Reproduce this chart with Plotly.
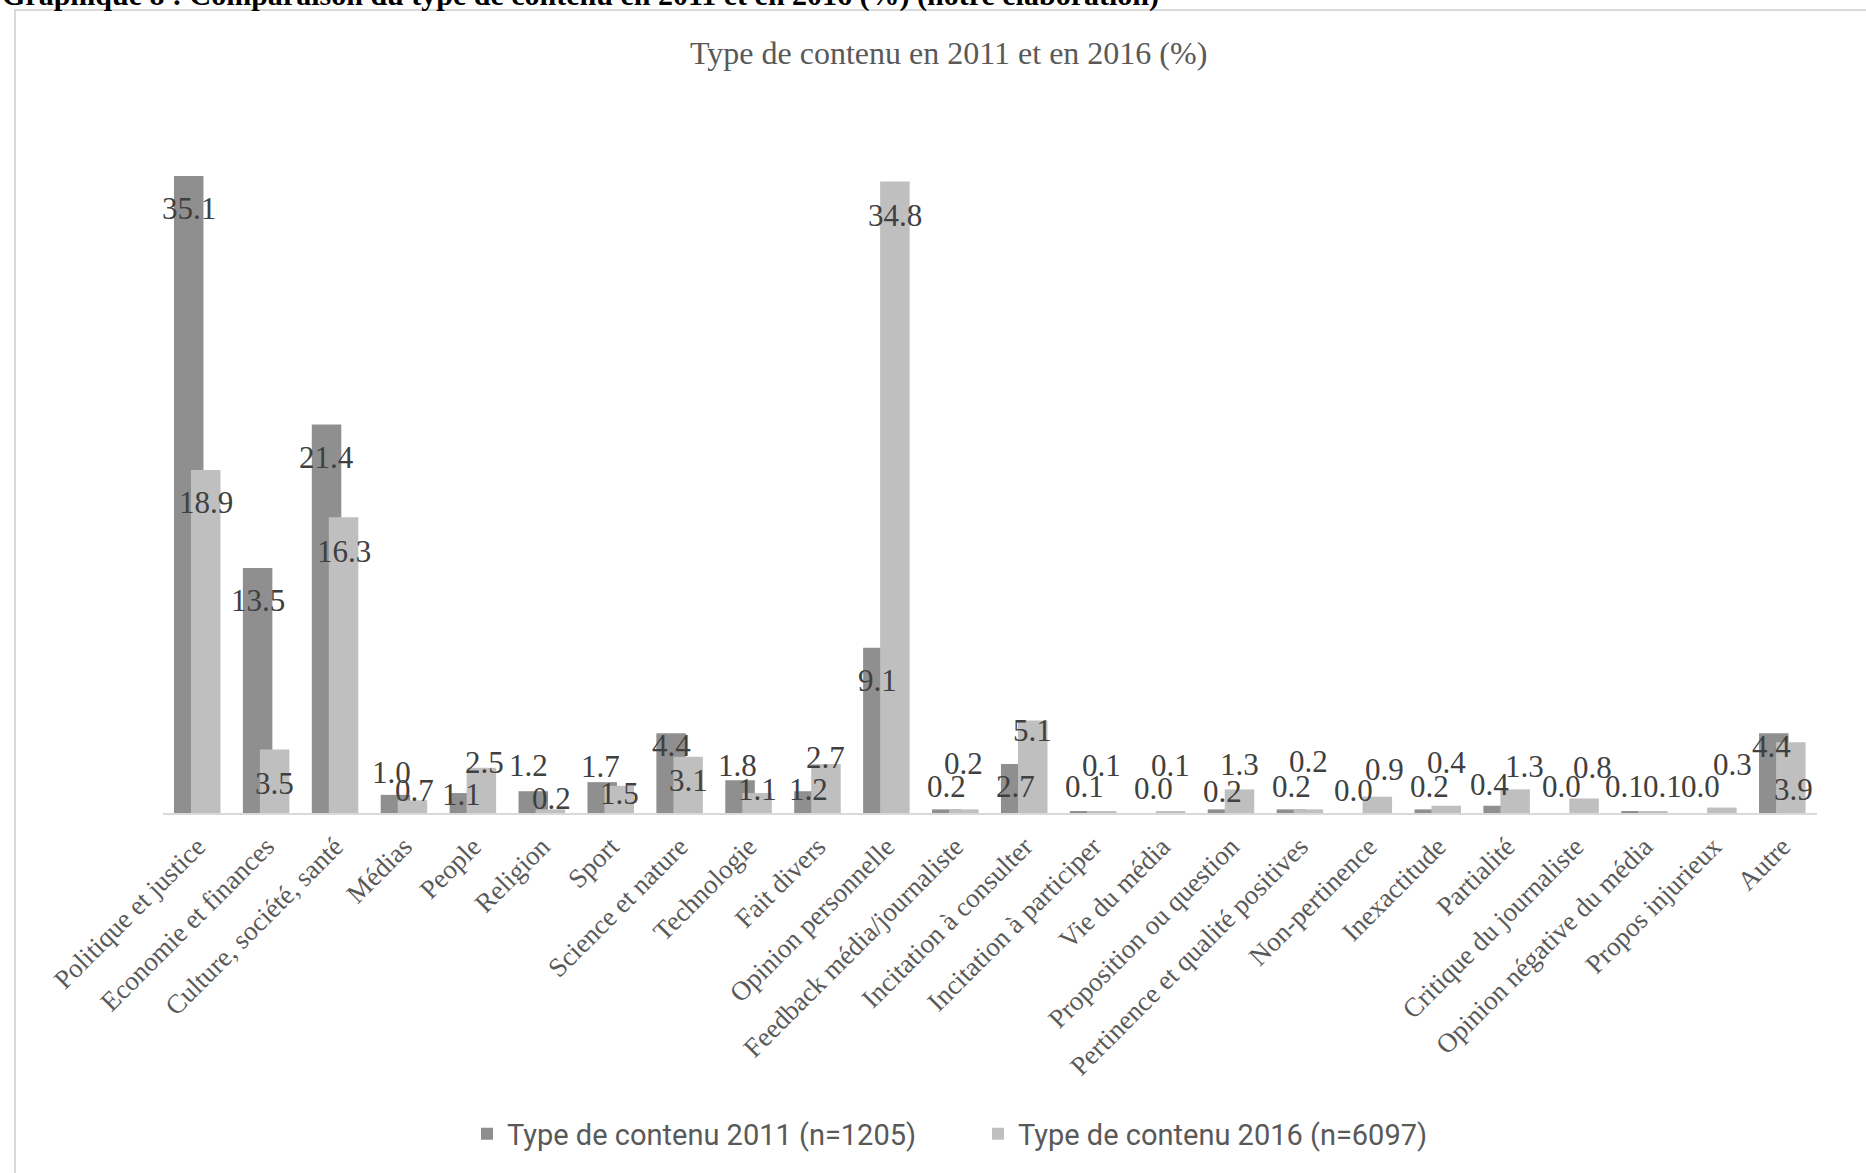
import plotly.graph_objects as go

# ---------------- data ----------------
categories = [
    "Politique et justice", "Economie et finances", "Culture, société, santé",
    "Médias", "People", "Religion", "Sport", "Science et nature", "Technologie",
    "Fait divers", "Opinion personnelle", "Feedback média/journaliste",
    "Incitation à consulter", "Incitation à participer", "Vie du média",
    "Proposition ou question", "Pertinence et qualité positives",
    "Non-pertinence", "Inexactitude", "Partialité", "Critique du journaliste",
    "Opinion négative du média", "Propos injurieux", "Autre",
]
val_2011 = [35.1, 13.5, 21.4, 1.0, 1.1, 1.2, 1.7, 4.4, 1.8, 1.2, 9.1, 0.2,
            2.7, 0.1, 0.0, 0.2, 0.2, 0.0, 0.2, 0.4, 0.0, 0.1, 0.0, 4.4]
val_2016 = [18.9, 3.5, 16.3, 0.7, 2.5, 0.2, 1.5, 3.1, 1.1, 2.7, 34.8, 0.2,
            5.1, 0.1, 0.1, 1.3, 0.2, 0.9, 0.4, 1.3, 0.8, 0.1, 0.3, 3.9]
series_names = ["Type de contenu 2011 (n=1205)", "Type de contenu 2016 (n=6097)"]
chart_title = "Type de contenu en 2011 et en 2016 (%)"
caption = "Graphique 8 : Comparaison du type de contenu en 2011 et en 2016 (%) (notre élaboration)"

# ---------------- label nudges (pixels, styling only) ----------------
lbl_dy_2011 = [-33, -33, -33, 22, -1, 26, 16, -12, 15, 2, -33, 23,
               -22, 25, 25, 18, 23, 23, 23, 21, 27, 25, 27, -13]
lbl_dy_2016 = [-33, -34, -34, 10, 5, 11, -8, -24, 4, 7, -34, 46,
               -10, 46, 46, 25, 48, 27, 43, 23, 31, 25, 43, -47]
lbl_dx_2011 = [0, 0, 0, -4, -3, -5, -2, 0, -3, 0, 0, 0,
               0, 0, 0, 0, 0, -7, 0, -9, -6, -11, -4, -2]
lbl_dx_2016 = [0, 0, 0, 2, 3, 1, 0, 0, 0, 0, 0, 0,
               0, 0, 0, 0, 0, 7, 0, 9, 8, 10, 11, 3]

# ---------------- layout constants ----------------
W, H = 1866, 1173
ML, MR, MT, MB = 163, 49, 87, 360
PW, PH = W - ML - MR, H - MT - MB
cat_px = PW / len(categories)

col_2011 = "#8f8f8f"
col_2016 = "#bfbfbf"
bar_w = 0.428
off_2011 = -0.341
off_2016 = -0.094

serif = "Liberation Serif, Times New Roman, serif"


def px_x(p):
    return (p - ML) / PW


def px_y(p):
    return (MT + PH - p) / PH


fig = go.Figure()
fig.add_trace(go.Bar(x=categories, y=val_2011, name=series_names[0],
                     width=bar_w, offset=off_2011,
                     marker=dict(color=col_2011, line=dict(width=0)),
                     hoverinfo="skip"))
fig.add_trace(go.Bar(x=categories, y=val_2016, name=series_names[1],
                     width=bar_w, offset=off_2016,
                     marker=dict(color=col_2016, line=dict(width=0)),
                     hoverinfo="skip"))

annotations = []
for vals, off, dxs, dys in ((val_2011, off_2011, lbl_dx_2011, lbl_dy_2011),
                            (val_2016, off_2016, lbl_dx_2016, lbl_dy_2016)):
    center_px = (off + bar_w / 2) * cat_px
    for c, v, dx, dy in zip(categories, vals, dxs, dys):
        annotations.append(dict(
            x=c, y=v, xref="x", yref="y", text=f"{v:.1f}", showarrow=False,
            xanchor="center", yanchor="middle",
            xshift=center_px + dx, yshift=dy,
            font=dict(family=serif, size=31, color="#404040")))

annotations.append(dict(
    x=px_x(948), y=px_y(53), xref="paper", yref="paper", text=chart_title,
    showarrow=False, xanchor="center", yanchor="middle",
    font=dict(family=serif, size=32, color="#595959")))
annotations.append(dict(
    x=px_x(0), y=px_y(-5), xref="paper", yref="paper",
    text="<b>" + caption + "</b>",
    showarrow=False, xanchor="left", yanchor="middle",
    font=dict(family=serif, size=30, color="#000000")))

shapes = [dict(type="rect", xref="paper", yref="paper",
               x0=px_x(15), x1=1.2, y0=px_y(10), y1=-0.8,
               line=dict(color="#d9d9d9", width=2), fillcolor="rgba(0,0,0,0)",
               layer="below")]

fig.update_layout(
    width=W, height=H,
    margin=dict(l=ML, r=MR, t=MT, b=MB, pad=0),
    paper_bgcolor="white", plot_bgcolor="white",
    barmode="overlay",
    showlegend=True,
    legend=dict(orientation="h", x=px_x(467), xanchor="left",
                y=px_y(1134), yanchor="middle",
                font=dict(family="Roboto, sans-serif", size=29, color="#595959"),
                entrywidth=466, itemsizing="constant", traceorder="normal"),
    xaxis=dict(type="category", showline=True, linecolor="#d9d9d9", linewidth=2,
               ticks="", showgrid=False, zeroline=False, tickangle=-45,
               ticklabelstandoff=5,
               range=[-0.5, len(categories) - 0.5],
               tickfont=dict(family=serif, size=27, color="#595959")),
    yaxis=dict(range=[0, 40], visible=False, showgrid=False, zeroline=False),
    annotations=annotations,
    shapes=shapes,
)

fig.write_html("out.html")
